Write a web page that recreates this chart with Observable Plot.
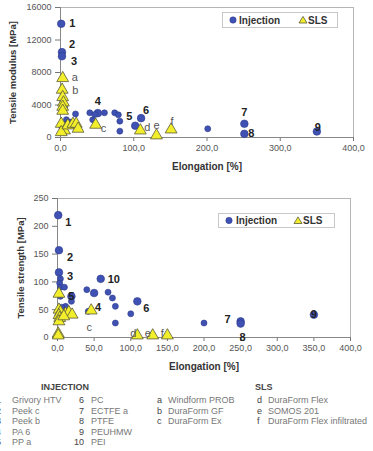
<!DOCTYPE html>
<html><head><meta charset="utf-8">
<script src="https://cdn.jsdelivr.net/npm/d3@7"></script>
<script src="https://cdn.jsdelivr.net/npm/@observablehq/plot@0.6"></script>
<style>
body{margin:0;background:#fff;font-family:"Liberation Sans",Arial,sans-serif;}
#wrap{position:relative;width:373px;height:451px;overflow:hidden;}
.abs{position:absolute;}
.ft{position:absolute;font-size:9px;color:#777;white-space:nowrap;line-height:10px;}
.fk{position:absolute;font-size:9px;color:#444;white-space:nowrap;line-height:10px;}
.fh{position:absolute;font-size:9px;color:#444;font-weight:bold;white-space:nowrap;line-height:10px;}
</style></head>
<body><div id="wrap"></div>
<script>
// ---- Data: Tensile modulus vs elongation ----
const modInjE = [1, 2, 2, 3, 4, 5.5, 8, 11, 13, 2, 5, 20.5, 40, 44, 47, 51, 60, 74, 79, 81, 81, 102, 110, 201, 251, 251, 350];
const modInjV = [14000, 10500, 10000, 4500, 3700, 3730, 2200, 1880, 1900, 1200, 700, 2900, 3040, 2180, 2830, 3000, 3040, 3040, 2790, 2010, 780, 1450, 2380, 1070, 1690, 450, 740];
const modInjL = ["1","2","3","","","","","","","","","","","","","4","","","","","","5","6","","7","8","9"];
const modSlsE = [3, 2.3, 3, 4, 3, 3, 1, 5.5, 1, 10, 17, 21.5, 24, 48, 109, 131, 151];
const modSlsV = [7300, 5870, 4960, 4300, 3770, 3280, 1680, 860, 650, 1480, 1680, 1680, 1070, 1560, 860, 250, 980];
const modSlsL = ["a","b","","","","","","","","","","","","c","d","e","f"];
// ---- Data: Tensile strength vs elongation ----
const strInjE = [1, 2, 2, 4, 3, 4, 9.5, 4, 19, 19, 11, 5.5, 40, 50, 42, 59, 69, 75, 79, 79, 100, 109, 200, 250, 250, 350];
const strInjV = [220, 157, 117, 105.5, 97.7, 90.5, 90.5, 74, 74, 65, 56, 54.5, 86, 80, 47, 105.5, 81.5, 71, 56, 26, 42.6, 65, 26, 29, 25, 41];
const strInjL = ["1","2","3","","","","","","5","","","","","4","","10","","","","","","6","","7","8","9"];
const strSlsE = [2, 2, 4, 2, 3, 2, 11, 15.5, 20, 8.6, 1, 1, 46, 109, 130, 150];
const strSlsV = [78.6, 50, 45.5, 40, 35, 29, 42.6, 45.5, 41, 38, 7, 3.6, 48.5, 3.6, 3.6, 3.6];
const strSlsL = ["","","","","","","","","","","","","c","d","e","f"];
// ---- Axis ticks ----
const modXTicks = [0, 100, 200, 300, 400];
const modYTicks = [0, 4000, 8000, 12000, 16000];
const strXTicks = [0, 50, 100, 150, 200, 250, 300, 350, 400];
const strYTicks = [0, 50, 100, 150, 200, 250];
// ---- Legend texts ----
const seriesNames = ["Injection", "SLS"];
const injKeys = ["1","2","3","4","5","6","7","8","9","10"];
const injNames = ["Grivory HTV","Peek c","Peek b","PA 6","PP a","PC","ECTFE a","PTFE","PEUHMW","PEI"];
const slsKeys = ["a","b","c","d","e","f"];
const slsNames = ["Windform PROB","DuraForm GF","DuraForm Ex","DuraForm Flex","SOMOS 201","DuraForm Flex infiltrated"];

const BLUE = "#3f51b3", BLUE_S = "#2c3b8c", YEL = "#f3ee2c", YEL_S = "#5a5a3a";
const fmt = d => d.toFixed(1).replace(".", ",");
const zip = (E, V, L) => E.map((e, i) => ({e, v: V[i], l: L[i]}));

const place1 = {
  "1":{dx:8,dy:0,a:"start"}, "2":{dx:7,dy:-8,a:"start"}, "3":{dx:9,dy:5,a:"start"},
  "4":{dx:0,dy:-12,a:"middle"}, "5":{dx:-6,dy:-9,a:"middle"}, "6":{dx:5,dy:-8,a:"middle"},
  "7":{dx:0,dy:-11,a:"middle"}, "8":{dx:4,dy:0,a:"start"}, "9":{dx:1,dy:-4,a:"middle"},
  "a":{dx:9,dy:-1,a:"start"}, "b":{dx:10,dy:1,a:"start"}, "c":{dx:5,dy:4,a:"start"},
  "d":{dx:4,dy:-3,a:"start"}, "e":{dx:0,dy:-10,a:"middle"}, "f":{dx:1,dy:-8,a:"middle"}
};
const place2 = {
  "1":{dx:7,dy:7,a:"start"}, "2":{dx:8,dy:7,a:"start"}, "3":{dx:8,dy:4,a:"start"},
  "5":{dx:0,dy:0,a:"middle"}, "4":{dx:4,dy:14,a:"middle"}, "10":{dx:7,dy:1,a:"start"},
  "6":{dx:6,dy:7,a:"start"}, "7":{dx:-13,dy:-2,a:"middle"}, "8":{dx:2,dy:14,a:"middle"},
  "9":{dx:0,dy:0,a:"middle"},
  "c":{dx:-2,dy:17,a:"middle"}, "d":{dx:-4,dy:-2,a:"middle"}, "e":{dx:-5,dy:-2,a:"middle"}, "f":{dx:-5,dy:-2,a:"middle"}
};

function labelMarks(data, place, bold) {
  return data.filter(d => d.l).map(d => {
    const p = place[d.l] || {dx:6,dy:0,a:"start"};
    return Plot.text([d], {x:"e", y:"v", text:"l", dx:p.dx, dy:p.dy, textAnchor:p.a,
      fontSize: 11, fontWeight: bold ? "bold" : "normal", fill: bold ? "#222" : "#555"});
  });
}

function chart({inj, sls, place, xTicks, yTicks, yMax, ylabel, height, mt, mb, ml, mr, ylabDx}) {
  return Plot.plot({
    width: 373, height, marginTop: mt, marginBottom: mb, marginLeft: ml, marginRight: mr,
    x: {domain: [0, 400]}, y: {domain: [0, yMax]},
    style: {fontFamily: '"Liberation Sans", Arial, sans-serif', fontSize: "9px", color: "#555", background: "transparent", overflow: "visible"},
    marks: [
      Plot.frame({stroke: "#b5b5b5"}),
      Plot.axisX({ticks: xTicks, tickFormat: fmt, tickSize: 4, tickPadding: 3, label: null, stroke: "#777", fill: "#555"}),
      Plot.axisY({ticks: yTicks, tickFormat: d => String(d), tickSize: 5, tickPadding: 4, label: null, stroke: "#777", fill: "#555"}),
      Plot.ruleX([0], {stroke: "#888"}),
      Plot.ruleY([0], {stroke: "#888"}),
      Plot.dot(inj, {x: "e", y: "v", r: d => d.l ? 6.5 : 4, fill: BLUE, stroke: BLUE_S, strokeWidth: 0.6}),
      Plot.dot(sls, {x: "e", y: "v", symbol: "triangle", r: 4.4, fill: YEL, stroke: YEL_S, strokeWidth: 0.8}),
      ...labelMarks(inj, place, true),
      ...labelMarks(sls, place, false),
      Plot.text(["Elongation [%]"], {frameAnchor: "bottom", lineAnchor: "middle", dy: 29, fontWeight: "bold", fontSize: 10, fill: "#333"}),
      Plot.text([ylabel], {frameAnchor: "left", textAnchor: "middle", lineAnchor: "middle", rotate: -90, dx: ylabDx, fontWeight: "bold", fontSize: 9.5, fill: "#333"})
    ]
  });
}

const wrap = document.getElementById("wrap");
function put(node, left, top) { node.classList.add("abs"); node.style.left = left + "px"; node.style.top = top + "px"; wrap.appendChild(node); return node; }

const c1 = chart({inj: zip(modInjE, modInjV, modInjL), sls: zip(modSlsE, modSlsV, modSlsL), place: place1,
  xTicks: modXTicks, yTicks: modYTicks, yMax: 16000, ylabel: "Tensile modulus [MPa]",
  height: 172, mt: 7, mb: 35, ml: 60, mr: 20, ylabDx: -48});
put(c1, 0, 0);
const c2 = chart({inj: zip(strInjE, strInjV, strInjL), sls: zip(strSlsE, strSlsV, strSlsL), place: place2,
  xTicks: strXTicks, yTicks: strYTicks, yMax: 250, ylabel: "Tensile strength [MPa]",
  height: 200, mt: 23, mb: 38, ml: 57, mr: 23, ylabDx: -37});
put(c2, 0, 175);

// series legends (boxes inside the plots)
function legendBox(left, top, w, h, cx, tx, trx, sx) {
  const ns = "http://www.w3.org/2000/svg";
  const svg = document.createElementNS(ns, "svg");
  svg.setAttribute("width", w); svg.setAttribute("height", h);
  svg.style.position = "absolute"; svg.style.left = left + "px"; svg.style.top = top + "px";
  const mk = (tag, attrs) => { const e = document.createElementNS(ns, tag); for (const k in attrs) e.setAttribute(k, attrs[k]); svg.appendChild(e); return e; };
  mk("rect", {x: 0.5, y: 0.5, width: w - 1, height: h - 1, fill: "#fff", stroke: "#c8c8c8"});
  mk("circle", {cx, cy: h / 2, r: 3.2, fill: BLUE, stroke: BLUE_S, "stroke-width": 0.5});
  mk("path", {d: `M${trx},${h/2-3.6}L${trx+4},${h/2+3}L${trx-4},${h/2+3}Z`, fill: YEL, stroke: YEL_S, "stroke-width": 0.8});
  const t1 = mk("text", {x: tx, y: h / 2 + 3.5, "font-size": 10, "font-weight": "bold", fill: "#333", "font-family": "Liberation Sans, Arial, sans-serif"}); t1.textContent = seriesNames[0];
  const t2 = mk("text", {x: sx, y: h / 2 + 3.5, "font-size": 10, "font-weight": "bold", fill: "#333", "font-family": "Liberation Sans, Arial, sans-serif"}); t2.textContent = seriesNames[1];
  wrap.appendChild(svg);
}
legendBox(222, 12, 116, 16, 11, 17, 81, 86);
legendBox(218, 213, 117, 15, 11, 18, 80, 85);

// bottom key
const rowY = [395, 405.5, 416, 426.5, 437];
function span(cls, txt, left, top) { const s = document.createElement("div"); s.className = cls; s.textContent = txt; s.style.left = left + "px"; s.style.top = top + "px"; wrap.appendChild(s); return s; }
span("fh", "INJECTION", 41, 382);
span("fh", "SLS", 255, 382);
injKeys.forEach((k, i) => {
  const col = i < 5 ? 0 : 1, r = i % 5;
  if (col === 0) span("fk", k, -4, rowY[r]);
  else span("fk", k, k.length > 1 ? 74 : 79, rowY[r]);
  span("ft", injNames[i], col === 0 ? 12 : 91, rowY[r]);
});
slsKeys.forEach((k, i) => {
  const col = i < 3 ? 0 : 1, r = i % 3;
  span("fk", k, col === 0 ? 157 : 257, rowY[r]);
  span("ft", slsNames[i], col === 0 ? 168 : 268, rowY[r]);
});
</script></body></html>
